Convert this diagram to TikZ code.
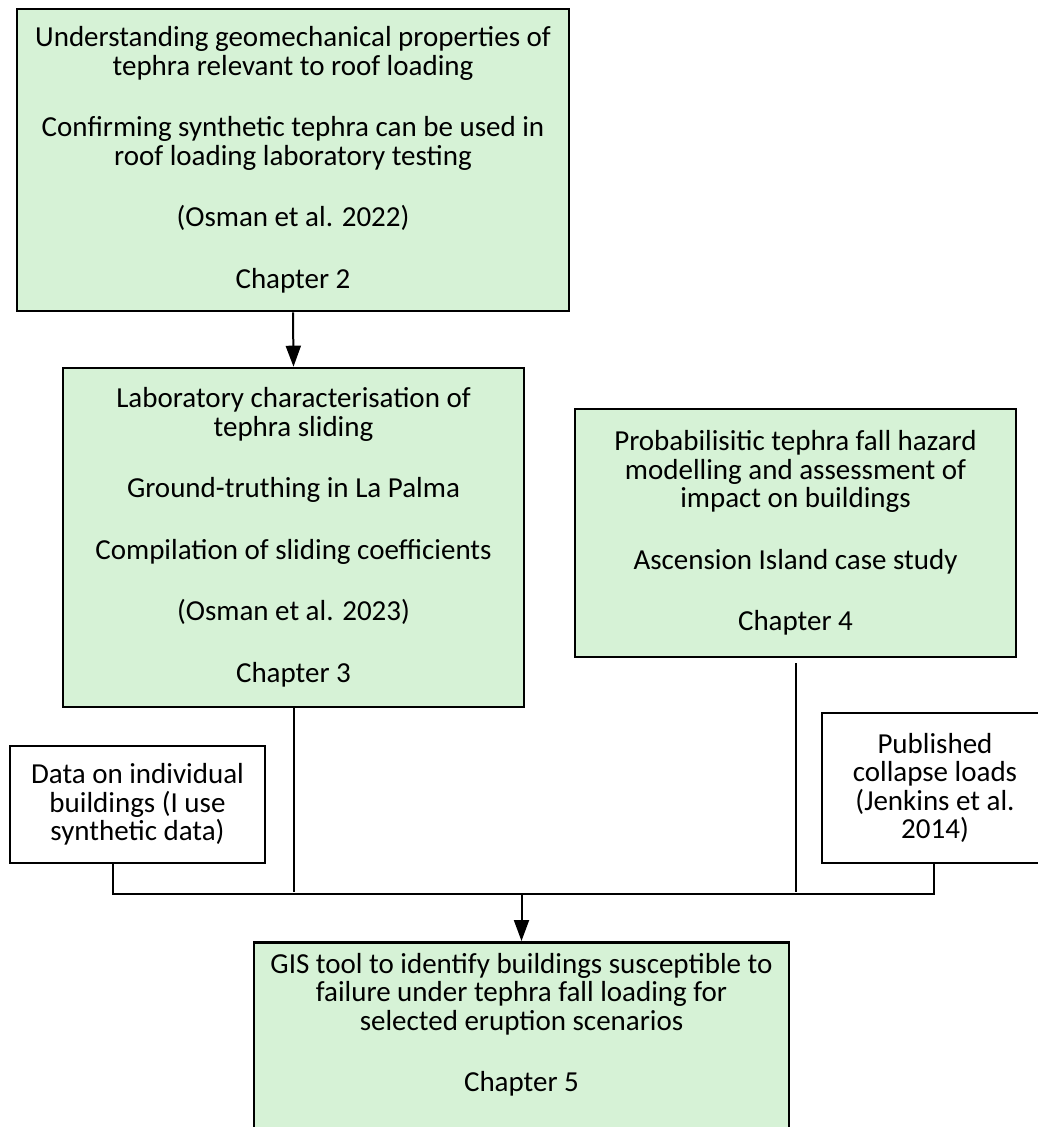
\documentclass[tikz,border=0pt]{standalone}
\usepackage{fontspec}
\setmainfont{Carlito}
\usetikzlibrary{arrows.meta}
\definecolor{boxgreen}{RGB}{214,242,214}
\tikzset{
  txt/.style={font=\fontsize{29}{28.5}\selectfont, align=center, inner sep=0pt},
  greenbox/.style={txt, draw=black, line width=2.6pt, fill=boxgreen, rectangle},
  whitebox/.style={txt, draw=black, line width=2.2pt, fill=white, rectangle},
  conn/.style={draw=black, line width=2pt},
  arr/.style={conn, -{Triangle[width=15pt,length=21pt]}},
}
\newcommand{\gap}{\\[33pt]}
\begin{document}
\begin{tikzpicture}[x=1pt,y=-1pt]
\useasboundingbox (0,0) rectangle (1038,1127);
\clip (0,0) rectangle (1038,1127);
\node[greenbox, minimum width=552pt, minimum height=302pt] (box1) at (293,160)
  {Understanding geomechanical properties of\\tephra relevant to roof loading\gap
   Confirming synthetic tephra can be used in\\roof loading laboratory testing\gap
   (Osman et al. 2022)\gap Chapter 2};
\node[greenbox, minimum width=461pt, minimum height=339pt] (box2) at (293.5,537.5)
  {Laboratory characterisation of\\tephra sliding\gap
   Ground-truthing in La Palma\gap
   Compilation of sliding coefficients\gap
   (Osman et al. 2023)\gap Chapter 3};
\node[greenbox, minimum width=441pt, minimum height=248pt] (box3) at (795.5,533)
  {Probabilisitic tephra fall hazard\\modelling and assessment of\\impact on buildings\gap
   Ascension Island case study\gap Chapter 4};
\node[whitebox, minimum width=255pt, minimum height=117pt] (data) at (137.5,804.5)
  {Data on individual\\buildings (I use\\synthetic data)};
\node[whitebox, minimum width=226pt, minimum height=150pt] (pub) at (935,788)
  {Published\\collapse loads\\(Jenkins et al.\\2014)};
\node[greenbox, minimum width=535pt, minimum height=230pt, anchor=north] (box5) at (521.5,941) {};
\node[txt] (box5t) at (521.5,1025)
  {GIS tool to identify buildings susceptible to\\failure under tephra fall loading for\\selected eruption scenarios\gap Chapter 5};
\coordinate (dL) at (113,894);
\coordinate (pR) at (934,894);
\coordinate (jy) at (0,892);
\draw[arr] (box1.south) -- (box2.north);
\draw[conn] (box2.south) -- (box2.south |- jy);
\draw[conn] ([yshift=-5pt]box3.south) -- (box3.south |- jy);
\draw[conn] (data.south -| dL) -- (dL) -- (pR) -- (pub.south -| pR);
\draw[arr] (box5.north |- dL) -- (box5.north);
\end{tikzpicture}
\end{document}
